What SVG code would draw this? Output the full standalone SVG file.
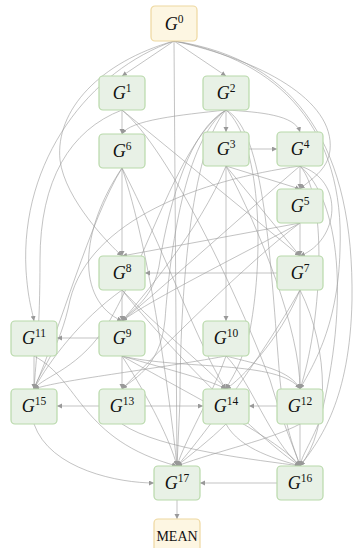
<svg xmlns="http://www.w3.org/2000/svg" width="354" height="548" viewBox="0 0 354 548">
<defs>
<marker id="ah" markerUnits="userSpaceOnUse" markerWidth="6" markerHeight="6" refX="5" refY="2.5" orient="auto">
<path d="M0,0 L5,2.5 L0,5 z" fill="#999"/>
</marker>
<style>
.e{fill:none;stroke:#9a9a9a;stroke-width:0.8;stroke-opacity:0.75;marker-end:url(#ah)}
.n rect{fill:#e8f1e6;stroke:#b8d9aa;stroke-width:1.2}
.y rect{fill:#fdf6e2;stroke:#eed8a0;stroke-width:1.2}
.t{font-family:"Liberation Serif","DejaVu Serif",serif;font-size:18px;font-style:italic;fill:#111;text-anchor:middle}
.s{font-size:11.5px;font-style:normal}
.m{font-family:"Liberation Serif","DejaVu Serif",serif;font-size:14px;fill:#111;text-anchor:middle}
</style>
</defs>
<g id="edges">
<path class="e" d="M174,41 L122,76"/>
<path class="e" d="M174,41 L226,76"/>
<path class="e" d="M174,41 L177,466"/>
<path class="e" d="M174,41 C90,70 20,160 26,270 C28,300 32,310 34,321"/>
<path class="e" d="M174,41 C100,62 55,110 60,160 C65,200 110,245 122,256"/>
<path class="e" d="M174,41 C260,60 335,100 330,150 C328,170 310,180 300,189"/>
<path class="e" d="M174,41 C280,60 345,130 340,250 C338,330 310,370 300,389"/>
<path class="e" d="M174,41 C300,60 354,150 352,300 C350,400 320,440 300,466"/>
<path class="e" d="M122,110 L122,134"/>
<path class="e" d="M122,110 L300,256"/>
<path class="e" d="M122,110 C70,130 40,180 40,260 C40,330 36,360 34,389"/>
<path class="e" d="M122,110 C170,150 240,300 270,380 C285,430 295,450 300,466"/>
<path class="e" d="M226,110 L226,132"/>
<path class="e" d="M226,110 C260,112 295,115 300,132"/>
<path class="e" d="M226,110 C180,115 130,120 122,134"/>
<path class="e" d="M226,110 C190,130 170,200 160,260 C155,300 130,310 122,321"/>
<path class="e" d="M226,110 C185,140 170,250 165,320 C160,370 130,380 122,389"/>
<path class="e" d="M226,110 C180,140 150,250 110,320 C80,370 45,375 34,389"/>
<path class="e" d="M226,110 C190,150 180,300 180,400 L177,466"/>
<path class="e" d="M226,110 C260,140 265,250 250,330 C240,370 230,380 226,389"/>
<path class="e" d="M226,110 C265,130 270,260 280,380 C285,430 295,450 300,466"/>
<path class="e" d="M249,149 L277,149"/>
<path class="e" d="M226,166 L300,189"/>
<path class="e" d="M226,166 L300,256"/>
<path class="e" d="M226,166 L226,321"/>
<path class="e" d="M226,166 C200,230 140,300 122,321"/>
<path class="e" d="M226,166 C260,230 300,330 300,389"/>
<path class="e" d="M300,166 L300,189"/>
<path class="e" d="M300,166 C345,180 340,240 300,256"/>
<path class="e" d="M300,166 C200,180 90,220 70,300 C60,350 40,370 34,389"/>
<path class="e" d="M300,166 C260,200 160,290 122,321"/>
<path class="e" d="M300,166 C340,200 350,300 320,420 C310,445 302,455 300,466"/>
<path class="e" d="M300,166 C330,200 320,330 300,389"/>
<path class="e" d="M300,223 L300,256"/>
<path class="e" d="M300,223 L122,256"/>
<path class="e" d="M300,223 C250,250 150,300 122,321"/>
<path class="e" d="M300,223 C250,260 160,350 122,389"/>
<path class="e" d="M122,168 L122,256"/>
<path class="e" d="M122,168 C90,220 60,330 34,389"/>
<path class="e" d="M122,168 C150,250 170,400 177,466"/>
<path class="e" d="M122,168 C160,240 200,350 226,389"/>
<path class="e" d="M122,168 C80,230 75,300 122,321"/>
<path class="e" d="M277,273 L145,273"/>
<path class="e" d="M300,290 C280,340 240,380 226,389"/>
<path class="e" d="M300,290 C330,350 330,430 300,466"/>
<path class="e" d="M300,290 C260,360 200,440 177,466"/>
<path class="e" d="M300,290 L300,389"/>
<path class="e" d="M122,290 L122,321"/>
<path class="e" d="M122,290 C80,320 50,360 34,389"/>
<path class="e" d="M122,290 C170,350 260,440 300,466"/>
<path class="e" d="M122,290 C160,330 210,370 226,389"/>
<path class="e" d="M99,338 L57,338"/>
<path class="e" d="M122,356 L122,389"/>
<path class="e" d="M122,356 C180,370 280,360 300,389"/>
<path class="e" d="M122,356 C150,400 170,440 177,466"/>
<path class="e" d="M122,356 C200,400 280,440 300,466"/>
<path class="e" d="M122,356 C170,370 210,380 226,389"/>
<path class="e" d="M226,356 C260,365 290,370 300,389"/>
<path class="e" d="M226,356 C250,380 270,440 300,466"/>
<path class="e" d="M226,356 C210,400 185,440 177,466"/>
<path class="e" d="M226,356 C150,370 60,380 34,389"/>
<path class="e" d="M34,356 L34,389"/>
<path class="e" d="M34,356 C80,380 80,440 177,466"/>
<path class="e" d="M99,406 L57,406"/>
<path class="e" d="M145,406 L203,406"/>
<path class="e" d="M122,424 C160,450 260,460 300,466"/>
<path class="e" d="M277,406 L249,406"/>
<path class="e" d="M300,424 L300,466"/>
<path class="e" d="M300,424 C270,440 220,450 177,466"/>
<path class="e" d="M226,424 C210,440 190,455 177,466"/>
<path class="e" d="M226,424 C240,450 280,460 300,466"/>
<path class="e" d="M34,424 C50,470 120,483 154,483"/>
<path class="e" d="M277,483 L200,483"/>
<path class="e" d="M177,500 L177,519"/>
</g>
<g id="G0" class="y"><rect x="151" y="6" width="46" height="35" rx="4"/><text class="t" x="174" y="30">G<tspan class="s" dy="-7">0</tspan></text></g>
<g id="G1" class="n"><rect x="99" y="76" width="46" height="34" rx="4"/><text class="t" x="122" y="99">G<tspan class="s" dy="-7">1</tspan></text></g>
<g id="G2" class="n"><rect x="203" y="76" width="46" height="34" rx="4"/><text class="t" x="226" y="99">G<tspan class="s" dy="-7">2</tspan></text></g>
<g id="G6" class="n"><rect x="99" y="134" width="46" height="34" rx="4"/><text class="t" x="122" y="157">G<tspan class="s" dy="-7">6</tspan></text></g>
<g id="G3" class="n"><rect x="203" y="132" width="46" height="34" rx="4"/><text class="t" x="226" y="155">G<tspan class="s" dy="-7">3</tspan></text></g>
<g id="G4" class="n"><rect x="277" y="132" width="46" height="34" rx="4"/><text class="t" x="300" y="155">G<tspan class="s" dy="-7">4</tspan></text></g>
<g id="G5" class="n"><rect x="277" y="189" width="46" height="34" rx="4"/><text class="t" x="300" y="212">G<tspan class="s" dy="-7">5</tspan></text></g>
<g id="G8" class="n"><rect x="99" y="256" width="46" height="34" rx="4"/><text class="t" x="122" y="279">G<tspan class="s" dy="-7">8</tspan></text></g>
<g id="G7" class="n"><rect x="277" y="256" width="46" height="34" rx="4"/><text class="t" x="300" y="279">G<tspan class="s" dy="-7">7</tspan></text></g>
<g id="G11" class="n"><rect x="11" y="321" width="46" height="35" rx="4"/><text class="t" x="34" y="344">G<tspan class="s" dy="-7">11</tspan></text></g>
<g id="G9" class="n"><rect x="99" y="321" width="46" height="35" rx="4"/><text class="t" x="122" y="344">G<tspan class="s" dy="-7">9</tspan></text></g>
<g id="G10" class="n"><rect x="203" y="321" width="46" height="35" rx="4"/><text class="t" x="226" y="344">G<tspan class="s" dy="-7">10</tspan></text></g>
<g id="G15" class="n"><rect x="11" y="389" width="46" height="35" rx="4"/><text class="t" x="34" y="412">G<tspan class="s" dy="-7">15</tspan></text></g>
<g id="G13" class="n"><rect x="99" y="389" width="46" height="35" rx="4"/><text class="t" x="122" y="412">G<tspan class="s" dy="-7">13</tspan></text></g>
<g id="G14" class="n"><rect x="203" y="389" width="46" height="35" rx="4"/><text class="t" x="226" y="412">G<tspan class="s" dy="-7">14</tspan></text></g>
<g id="G12" class="n"><rect x="277" y="389" width="46" height="35" rx="4"/><text class="t" x="300" y="412">G<tspan class="s" dy="-7">12</tspan></text></g>
<g id="G17" class="n"><rect x="154" y="466" width="46" height="34" rx="4"/><text class="t" x="177" y="489">G<tspan class="s" dy="-7">17</tspan></text></g>
<g id="G16" class="n"><rect x="277" y="466" width="46" height="34" rx="4"/><text class="t" x="300" y="489">G<tspan class="s" dy="-7">16</tspan></text></g>
<g id="MEAN" class="y"><rect x="154" y="519" width="46" height="34" rx="4"/><text class="m" x="177" y="541">MEAN</text></g>
</svg>
